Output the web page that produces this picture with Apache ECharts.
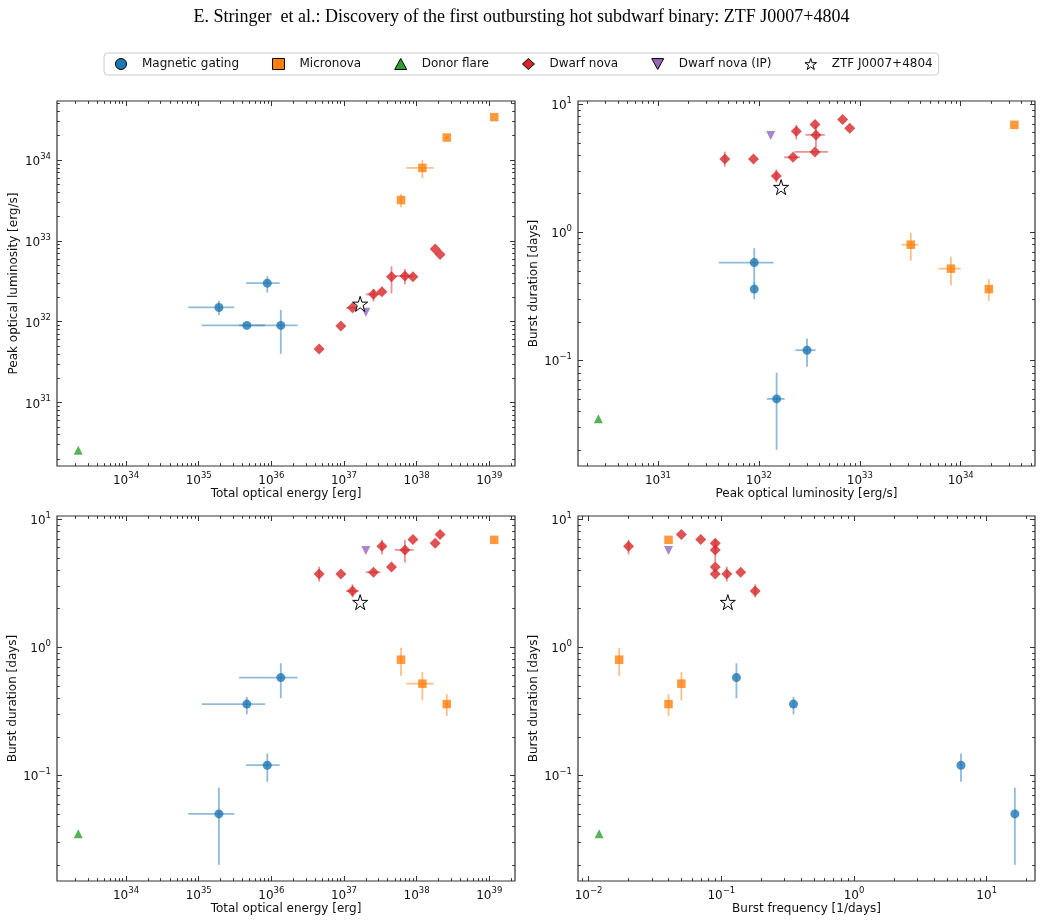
<!DOCTYPE html>
<html>
<head>
<meta charset="utf-8">
<script src="https://cdn.jsdelivr.net/npm/echarts@6/dist/echarts.min.js"></script>
<style>
  html, body { margin: 0; padding: 0; background: #fff; }
  #chart { width: 1043px; height: 922px; }
</style>
</head>
<body>
<div id="chart"></div>
<script>
// values (linear units); error bars as [low, high] or null

// Magnetic gating
const mgEnergy = [1.9e35, 4.6e35, 8.8e35, 1.35e36];
const mgEnergyErr = [[7.2e34, 3.1e35], [1.1e35, 8.2e35], [4.5e35, 1.3e36], [3.6e35, 2.3e36]];
const mgLum = [1.5e32, 9.0e31, 3.0e32, 9.0e31];
const mgLumErr = [[1.2e32, 1.8e32], null, [2.3e32, 3.65e32], [4.0e31, 1.4e32]];
const mgDur = [0.05, 0.36, 0.12, 0.58];
const mgDurErr = [[0.02, 0.08], [0.30, 0.41], [0.089, 0.148], [0.40, 0.75]];
const mgFreq = [16.3, 0.35, 6.4, 0.13];

// Micronova
const mnEnergy = [6.1e37, 1.2e38, 2.6e38, 1.17e39];
const mnEnergyErr = [null, [7.2e37, 1.71e38], [2.45e38, 2.75e38], null];
const mnLum = [3.2e33, 8.0e33, 1.9e34, 3.4e34];
const mnLumErr = [[2.6e33, 3.8e33], [6.0e33, 1.0e34], [1.8e34, 2.0e34], null];
const mnDur = [0.8, 0.52, 0.36, 6.9];
const mnDurErr = [[0.6, 0.99], [0.385, 0.64], [0.29, 0.43], null];
const mnFreq = [0.017, 0.05, 0.04, 0.04];

// Donor flare
const dfEnergy = [2.2e33];
const dfLum = [2.57e30];
const dfDur = [0.035];
const dfFreq = [0.012];

// Dwarf nova
const dnEnergy = [4.55e36, 9.06e36, 1.31e37, 2.55e37, 3.33e37, 4.51e37, 6.9e37, 8.9e37, 1.8e38, 2.1e38];
const dnEnergyErr = [null, null, [1.07e37, 1.6e37], [2.0e37, 3.17e37], null, null, [5.0e37, 9.1e37], null, null, null];
const dnLum = [4.6e31, 8.85e31, 1.49e32, 2.18e32, 2.35e32, 3.6e32, 3.68e32, 3.6e32, 7.95e32, 6.76e32];
const dnLumErr = [null, null, null, [1.78e32, 2.55e32], null, [2.24e32, 4.85e32], [2.9e32, 4.5e32], null, null, null];
const dnDur = [3.74, 3.74, 2.75, 3.85, 6.15, 4.24, 5.76, 6.93, 6.5, 7.58];
const dnDurErr = [[3.25, 4.26], null, [2.45, 3.1], null, [5.3, 6.9], null, [4.6, 6.9], null, null, null];
const dnFreq = [0.11, 0.09, 0.18, 0.14, 0.02, 0.09, 0.09, 0.07, 0.09, 0.05];

// Dwarf nova (IP)
const ipEnergy = [2.0e37];
const ipLum = [1.31e32];
const ipDur = [5.7];
const ipFreq = [0.04];

// ZTF J0007+4804
const ztfEnergy = [1.67e37];
const ztfLum = [1.66e32];
const ztfDur = [2.25];
const ztfFreq = [0.112];

const STAR = 'path://M50,0 L61.2,34.5 L97.6,34.5 L68.2,55.9 L79.4,90.5 L50,69.1 L20.6,90.5 L31.8,55.9 L2.4,34.5 L38.8,34.5 Z';
const INV_TRI = 'path://M0,0 L20,0 L10,18 Z';

const groups = [
  { name: 'Magnetic gating', color: '#1f77b4', symbol: 'circle', size: 9,
    v: { energy: mgEnergy, lum: mgLum, dur: mgDur, freq: mgFreq },
    e: { energy: mgEnergyErr, lum: mgLumErr, dur: mgDurErr } },
  { name: 'Micronova', color: '#ff7f0e', symbol: 'rect', size: 8.5,
    v: { energy: mnEnergy, lum: mnLum, dur: mnDur, freq: mnFreq },
    e: { energy: mnEnergyErr, lum: mnLumErr, dur: mnDurErr } },
  { name: 'Donor flare', color: '#2ca02c', symbol: 'triangle', size: 9,
    v: { energy: dfEnergy, lum: dfLum, dur: dfDur, freq: dfFreq }, e: {} },
  { name: 'Dwarf nova', color: '#d62728', symbol: 'diamond', size: 11,
    v: { energy: dnEnergy, lum: dnLum, dur: dnDur, freq: dnFreq },
    e: { energy: dnEnergyErr, lum: dnLumErr, dur: dnDurErr } },
  { name: 'Dwarf nova (IP)', color: '#9467bd', symbol: INV_TRI, size: 9,
    v: { energy: ipEnergy, lum: ipLum, dur: ipDur, freq: ipFreq }, e: {} },
  { name: 'ZTF J0007+4804', color: '#ffffff', symbol: STAR, size: 15, star: true,
    v: { energy: ztfEnergy, lum: ztfLum, dur: ztfDur, freq: ztfFreq }, e: {} }
];

// log10 axis limits of each panel
const panels = [
  { x: 'energy', y: 'lum', xr: [33.05, 39.354], yr: [30.214, 34.731],
    xname: 'Total optical energy [erg]', yname: 'Peak optical luminosity [erg/s]',
    grid: { left: 57, top: 101, width: 458, height: 365 } },
  { x: 'lum', y: 'dur', xr: [30.208, 34.736], yr: [-1.825, 1.025],
    xname: 'Peak optical luminosity [erg/s]', yname: 'Burst duration [days]',
    grid: { left: 578, top: 101, width: 457, height: 365 } },
  { x: 'energy', y: 'dur', xr: [33.05, 39.354], yr: [-1.825, 1.025],
    xname: 'Total optical energy [erg]', yname: 'Burst duration [days]',
    grid: { left: 57, top: 516, width: 458, height: 365 } },
  { x: 'freq', y: 'dur', xr: [-2.08, 1.364], yr: [-1.825, 1.025],
    xname: 'Burst frequency [1/days]', yname: 'Burst duration [days]',
    grid: { left: 578, top: 516, width: 457, height: 365 } }
];

const AX = '#333';
const FONT = 'DejaVu Sans';

function logTicks(r) {
  const major = [], minor = [];
  for (let n = Math.floor(r[0]); n <= Math.ceil(r[1]); n++) {
    if (n >= r[0] && n <= r[1]) major.push(n);
    for (let k = 2; k <= 9; k++) {
      const v = n + Math.log10(k);
      if (v >= r[0] && v <= r[1]) minor.push(v);
    }
  }
  return { major, minor };
}

function supLabel(v) {
  const n = Math.round(v);
  return '{b|10}{s|' + (n < 0 ? '\u2212' + (-n) : n) + '}';
}

function sideAxes(gi, r, isX, name) {
  const t = logTicks(r);
  const sides = isX ? ['bottom', 'top'] : ['left', 'right'];
  const out = [];
  sides.forEach((pos, i) => {
    [t.major, t.minor].forEach((vals, j) => {
      const ax = {
        type: 'value', gridIndex: gi, position: pos, min: r[0], max: r[1],
        axisLine: { show: false, onZero: false }, splitLine: { show: false },
        axisTick: { show: true, inside: true, length: j ? 2.8 : 5, customValues: vals,
                    lineStyle: { color: AX, width: 1 } },
        axisLabel: { show: false }
      };
      if (i === 0 && j === 0) {
        ax.axisLabel = {
          show: true, customValues: vals, formatter: supLabel, margin: isX ? 5 : 6,
          rich: {
            b: { fontFamily: FONT, fontSize: 12, color: '#111', lineHeight: 16, verticalAlign: 'bottom' },
            s: { fontFamily: FONT, fontSize: 8.5, color: '#111', lineHeight: 16, verticalAlign: 'top' }
          }
        };
        ax.name = name;
        ax.nameLocation = 'middle';
        ax.nameGap = isX ? 20 : 37;
        ax.nameTextStyle = { fontFamily: FONT, fontSize: 12, color: '#111' };
      }
      out.push(ax);
    });
  });
  return out;
}

function lg(v) { return Math.log10(v); }

function errRender(color) {
  return function (params, api) {
    const x = api.value(0), y = api.value(1);
    const x0 = api.value(2), x1 = api.value(3), y0 = api.value(4), y1 = api.value(5);
    const st = { stroke: color, lineWidth: 1.8, opacity: 0.5 };
    const kids = [];
    if (x1 > x0) {
      const a = api.coord([x0, y]), b = api.coord([x1, y]);
      kids.push({ type: 'line', shape: { x1: a[0], y1: a[1], x2: b[0], y2: b[1] }, style: st });
    }
    if (y1 > y0) {
      const a = api.coord([x, y0]), b = api.coord([x, y1]);
      kids.push({ type: 'line', shape: { x1: a[0], y1: a[1], x2: b[0], y2: b[1] }, style: st });
    }
    return { type: 'group', children: kids };
  };
}

const grids = [], xAxes = [], yAxes = [], series = [];

panels.forEach((p, pi) => {
  grids.push(Object.assign({ show: true, borderColor: AX, borderWidth: 1.2,
    backgroundColor: 'transparent', containLabel: false, outerBoundsMode: 'none' }, p.grid));
  xAxes.push(...sideAxes(pi, p.xr, true, p.xname));
  yAxes.push(...sideAxes(pi, p.yr, false, p.yname));

  groups.forEach(g => {
    const xs = g.v[p.x], ys = g.v[p.y];
    const ex = g.e[p.x] || [], ey = g.e[p.y] || [];
    const pts = xs.map((xv, i) => [lg(xv), lg(ys[i])]);
    if (!g.star) {
      const rows = xs.map((xv, i) => {
        const a = ex[i] || [xv, xv], b = ey[i] || [ys[i], ys[i]];
        return [lg(xv), lg(ys[i]), lg(a[0]), lg(a[1]), lg(b[0]), lg(b[1])];
      });
      series.push({
        type: 'custom', name: g.name + ' err', xAxisIndex: pi * 4, yAxisIndex: pi * 4,
        renderItem: errRender(g.color), data: rows, encode: { x: 0, y: 1 },
        silent: true, z: 2
      });
    }
    series.push({
      type: 'scatter', name: g.name, xAxisIndex: pi * 4, yAxisIndex: pi * 4,
      symbol: g.symbol, symbolSize: g.size, data: pts, z: g.star ? 5 : 3,
      itemStyle: g.star
        ? { color: '#ffffff', borderColor: '#000', borderWidth: 1, opacity: 1 }
        : { color: g.color, opacity: 0.8 }
    });
  });
});

const chart = echarts.init(document.getElementById('chart'));
chart.setOption({
  animation: false,
  title: {
    text: 'E. Stringer  et al.: Discovery of the first outbursting hot subdwarf binary: ZTF J0007+4804',
    left: 'center', top: 3,
    textStyle: { fontFamily: 'Liberation Serif', fontSize: 18, fontWeight: 'normal', color: '#000' }
  },
  legend: {
    top: 53, left: 104,
    itemWidth: 12, itemHeight: 11, itemGap: 33,
    padding: [5, 6, 5, 11],
    borderColor: '#ccc', borderWidth: 1, borderRadius: 4,
    textStyle: { fontFamily: FONT, fontSize: 12, color: '#111', padding: [0, 0, 0, 10] },
    data: groups.map(g => ({
      name: g.name, icon: g.symbol,
      itemStyle: { color: g.color, borderColor: '#000', borderWidth: 1, opacity: 1 }
    }))
  },
  grid: grids,
  xAxis: xAxes,
  yAxis: yAxes,
  series: series
});
</script>
</body>
</html>
